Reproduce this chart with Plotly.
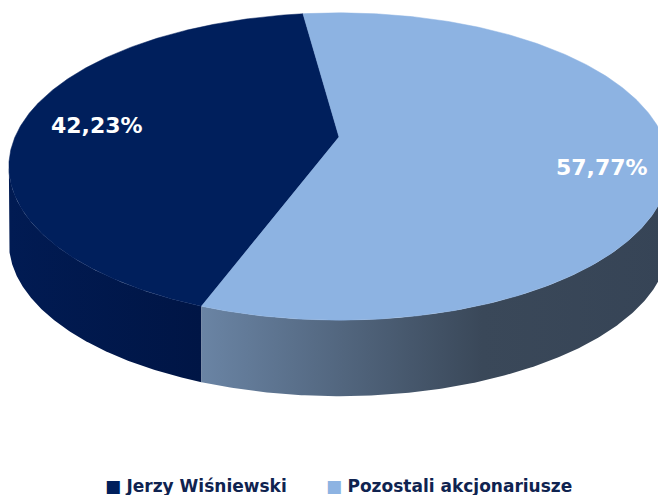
import numpy as np
import plotly.graph_objects as go

# ---- data ----
labels = ["Jerzy Wiśniewski", "Pozostali akcjonariusze"]
values = [42.23, 57.77]
value_text = ["42,23%", "57,77%"]

# ---- style ----
top_colors = ["#001F5C", "#8DB3E2"]
side_scales = [
    [[0, "#011B53"], [1, "#001545"]],
    [[0, "#6A84A4"], [0.6, "#3A4859"], [1, "#364456"]],
]
legend_text_color = "#0F2350"

W, H = 658, 495
CX, CY = 339, 137          # projected pie centre
RX, RY, E = 324, 148, 0.192  # radii and perspective factor
DEPTH = 76
START = -7.6               # degrees, clockwise from top
label_pos = [(97, 125), (602, 167)]


def proj(theta_deg):
    t = np.radians(theta_deg)
    s, c = np.sin(t), np.cos(t)
    w = 1 + E * c
    return CX + RX * s / w, CY - RY * c / w


total = sum(values)
spans = [v / total * 360 for v in values]
# slice 0 goes counter-clockwise from START, slice 1 clockwise
ranges = [(START - spans[0], START), (START, START + spans[1])]

sil = np.degrees(np.arccos(-E))
vis_lo, vis_hi = sil, 360 - sil

fig = go.Figure()

# side walls (front, visible part only)
for i, (a, b) in enumerate(ranges):
    for k in (-1, 0, 1):
        lo, hi = max(a, vis_lo + 360 * k), min(b, vis_hi + 360 * k)
        if hi <= lo:
            continue
        th = np.linspace(lo, hi, 200)
        xs, ys = proj(th)
        px = np.concatenate([xs, xs[::-1]])
        py = np.concatenate([ys, ys[::-1] + DEPTH])
        fig.add_trace(go.Scatter(
            x=px, y=py, mode="lines", fill="toself",
            line=dict(width=0, color=side_scales[i][0][1]),
            fillgradient=dict(type="horizontal", colorscale=side_scales[i]),
            hoverinfo="skip", showlegend=False))

# top faces
for i, (a, b) in enumerate(ranges):
    th = np.linspace(a, b, 300)
    xs, ys = proj(th)
    px = np.concatenate([[CX], xs, [CX]])
    py = np.concatenate([[CY], ys, [CY]])
    fig.add_trace(go.Scatter(
        x=px, y=py, mode="lines", fill="toself",
        fillcolor=top_colors[i], line=dict(width=0.5, color=top_colors[i]),
        hoverinfo="skip", showlegend=False))

annotations = []
for i, t in enumerate(value_text):
    annotations.append(dict(
        x=label_pos[i][0], y=label_pos[i][1], text=f"<b>{t}</b>",
        showarrow=False, xanchor="center", yanchor="middle",
        font=dict(family="DejaVu Sans", size=22, color="white")))

legend_x = [103, 324]
for i, lab in enumerate(labels):
    annotations.append(dict(
        x=legend_x[i], y=486, xanchor="left", yanchor="middle",
        text=f"<span style='color:{top_colors[i]}'>■</span> <b>{lab}</b>",
        showarrow=False,
        font=dict(family="DejaVu Sans", size=17, color=legend_text_color)))

fig.update_layout(
    width=W, height=H, margin=dict(l=0, r=0, t=0, b=0),
    paper_bgcolor="white", plot_bgcolor="white",
    xaxis=dict(range=[0, W], visible=False, fixedrange=True),
    yaxis=dict(range=[H, 0], visible=False, fixedrange=True),
    annotations=annotations, showlegend=False)

fig.write_html("out.html")
